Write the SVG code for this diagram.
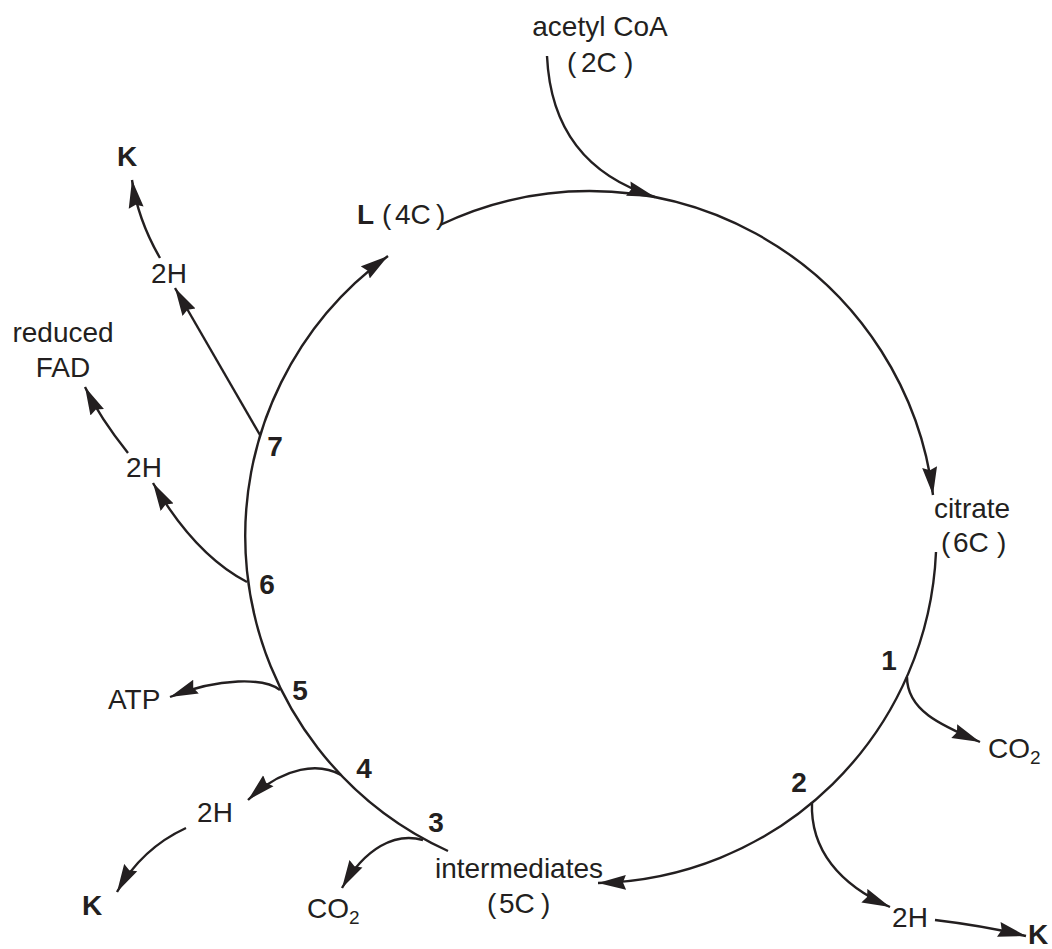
<svg xmlns="http://www.w3.org/2000/svg" width="1052" height="949" viewBox="0 0 1052 949">
<style>
text{font-family:"Liberation Sans",Arial,sans-serif;font-size:28px;fill:#231f20}
.b{font-weight:bold}
.m{text-anchor:middle}
.c{fill:none;stroke:#231f20;stroke-width:2.4}
.a{marker-end:url(#ah)}
</style>
<defs>
<marker id="ah" markerUnits="userSpaceOnUse" markerWidth="30" markerHeight="16" viewBox="0 0 30 16" refX="28" refY="8" orient="auto">
<path d="M0,0.5 L28,8 L0,15.5 L3,8 z" fill="#231f20"/>
</marker>
</defs>
<rect width="1052" height="949" fill="#fff"/>
<g id="connectors">
<path class="c a" d="M448,851 A346,346 0 0 1 388,256"/>
<path class="c a" d="M440,225 A346,346 0 0 1 933,495"/>
<path class="c a" d="M936,552 A346,346 0 0 1 598,883"/>
<path class="c a" d="M547,56 Q552,165 655,197"/>
<path class="c a" d="M260,435 L175,288"/>
<path class="c a" d="M160,258 Q138,220 132,180"/>
<path class="c a" d="M247,582 Q195,555 153,483"/>
<path class="c a" d="M128,453 Q100,418 85,387"/>
<path class="c a" d="M280,690 C265,678 220,677 170,697"/>
<path class="c a" d="M341,775 C320,763 285,765 248,800"/>
<path class="c a" d="M186,828 C160,840 135,860 117,892"/>
<path class="c a" d="M423,840 C395,832 365,848 342,888"/>
<path class="c a" d="M907,677 C907,710 940,725 980,742"/>
<path class="c a" d="M812,802 C810,850 840,885 890,907"/>
<path class="c a" d="M935,920 Q985,926 1026,936"/>
</g>
<g id="acetyl-coa"><text class="m" x="600" y="36">acetyl CoA</text><text x="567" y="72">(<tspan x="581">2C</tspan><tspan x="624">)</tspan></text></g>
<g id="L"><text x="357" y="224"><tspan class="b">L</tspan><tspan x="382">(</tspan><tspan x="395">4C</tspan><tspan x="436">)</tspan></text></g>
<g id="citrate"><text class="m" x="972" y="518">citrate</text><text x="941" y="552">(<tspan x="953">6C</tspan><tspan x="997">)</tspan></text></g>
<g id="intermediates"><text class="m" x="519" y="878">intermediates</text><text x="487" y="913">(<tspan x="499">5C</tspan><tspan x="541">)</tspan></text></g>
<g id="k-top"><text class="m b" x="127" y="166">K</text></g>
<g id="h-top"><text class="m" x="169" y="283">2H</text></g>
<g id="fad"><text class="m" x="63" y="342">reduced</text><text class="m" x="63" y="377">FAD</text></g>
<g id="h-mid"><text class="m" x="144" y="477">2H</text></g>
<g id="atp"><text x="108" y="709">ATP</text></g>
<g id="h-low"><text class="m" x="215" y="822">2H</text></g>
<g id="k-low"><text class="m b" x="92" y="915">K</text></g>
<g id="co2-low"><text x="307" y="918">CO<tspan font-size="19" dy="6">2</tspan></text></g>
<g id="co2-right"><text x="988" y="758">CO<tspan font-size="19" dy="6">2</tspan></text></g>
<g id="h-right"><text class="m" x="910" y="927">2H</text></g>
<g id="k-right"><text class="m b" x="1038" y="944">K</text></g>
<g id="steps">
<text class="m b" x="275" y="456">7</text>
<text class="m b" x="267" y="594">6</text>
<text class="m b" x="300" y="700">5</text>
<text class="m b" x="364" y="778">4</text>
<text class="m b" x="436" y="832">3</text>
<text class="m b" x="799" y="792">2</text>
<text class="m b" x="889" y="670">1</text>
</g>
</svg>
